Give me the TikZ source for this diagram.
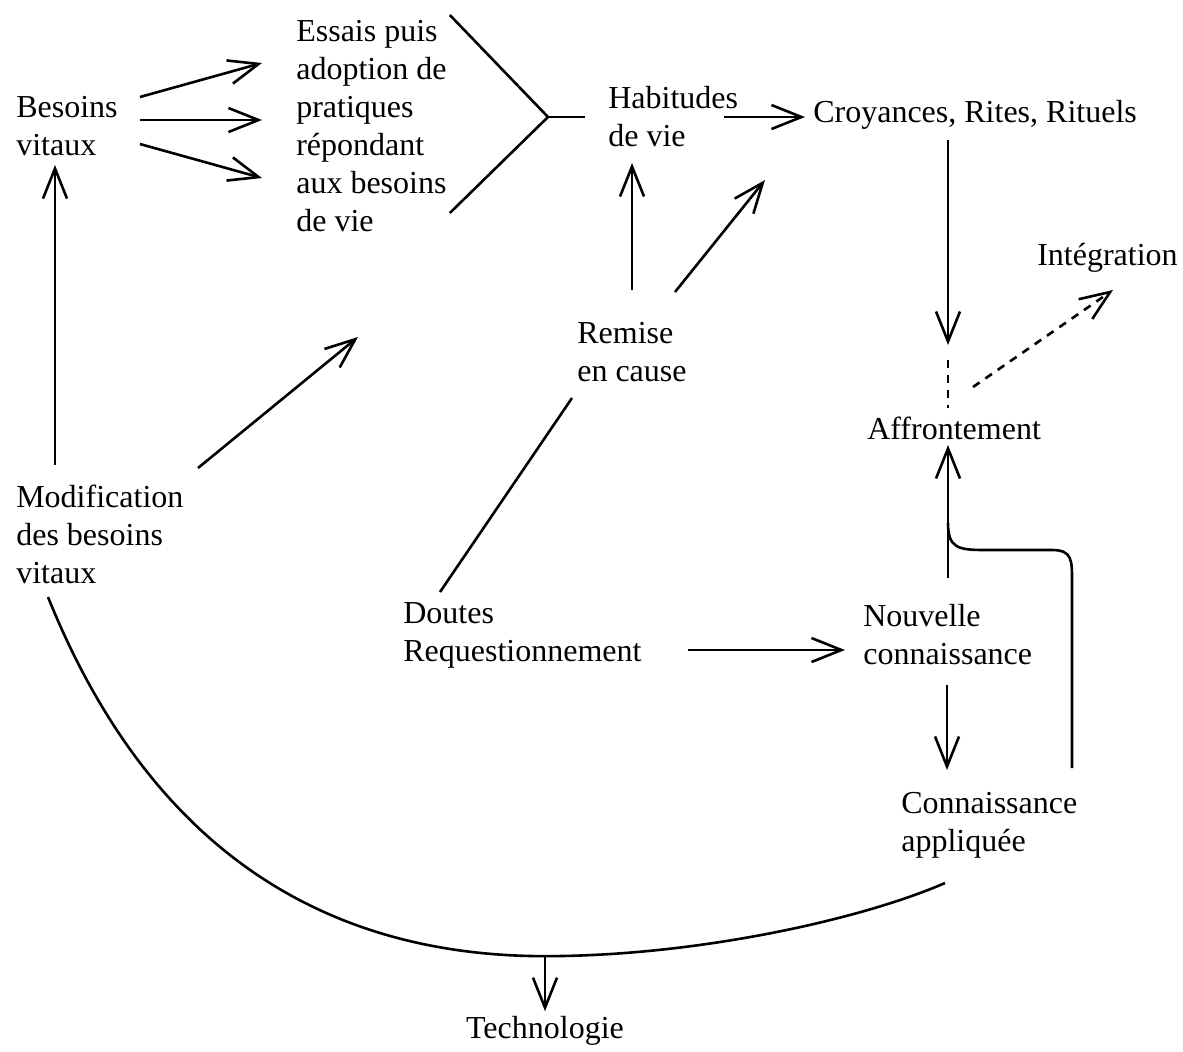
\documentclass[tikz,border=0pt]{standalone}
\usepackage{fontspec}
\setmainfont{Liberation Serif}
\usetikzlibrary{arrows.meta}
\begin{document}
\begin{tikzpicture}[x=0.5pt, y=-0.5pt, line width=1.3pt,
  txt/.style={anchor=west, align=left, inner sep=0pt, font=\fontsize{16}{19}\selectfont},
  arr/.style={-{Straight Barb[length=15pt, width=12pt]}},
  dsh/.style={dash pattern=on 4pt off 3.5pt}]
\useasboundingbox (0,0) rectangle (1183,1051);
\node (besoins) at (15,126) [txt] {Besoins\\vitaux};
\node (essais) at (295,126) [txt] {Essais puis\\adoption de\\pratiques\\répondant\\aux besoins\\de vie};
\node (habitudes) at (607,117) [txt] {Habitudes\\de vie};
\node (croyances) at (812,115) [txt] {Croyances, Rites, Rituels};
\node (integration) at (1036,258) [txt] {Intégration};
\node (remise) at (576,352) [txt] {Remise\\en cause};
\node (affront) at (866,428) [txt] {Affrontement};
\node (modif) at (15,534) [txt] {Modification\\des besoins\\vitaux};
\node (doutes) at (402,635) [txt] {Doutes\\Requestionnement};
\node (nouvelle) at (862,635) [txt] {Nouvelle\\connaissance};
\node (appliquee) at (900,825) [txt] {Connaissance\\appliquée};
\node (techno) at (545,1031) [txt, anchor=center] {Technologie};

% besoins vers pratiques
\draw[arr] ([shift={(21,-29)}]besoins.east) -- ([shift={(-33,-63)}]essais.west);
\draw[arr] ([shift={(21,-6)}]besoins.east) -- ([shift={(-33,-6)}]essais.west);
\draw[arr] ([shift={(21,18)}]besoins.east) -- ([shift={(-33,52)}]essais.west);

% fourche vers habitudes
\coordinate (fork) at ([shift={(-59,0)}]habitudes.west);
\draw ([shift={(2,-111)}]essais.east) -- (fork) -- ([shift={(2,87)}]essais.east);
\draw (fork) -- ++(37,0);
\draw[arr] ([shift={(-15,0)}]habitudes.east) -- ([shift={(-7,2)}]croyances.west);

% remise en cause
\draw[arr] ([shift={(56,-62)}]remise.west) -- ([shift={(25,46)}]habitudes.west);
\draw[arr] ([shift={(99,-60)}]remise.west) -- ([shift={(-47,65)}]croyances.west);
\draw ([shift={(38,-43)}]doutes.west) -- ([shift={(-4,46)}]remise.west);

% affrontement
\draw[arr] ([shift={(136,25)}]croyances.west) -- ([shift={(82,-83)}]affront.west);
\draw[dsh] ([shift={(82,-68)}]affront.west) -- ([shift={(82,-20)}]affront.west);
\draw[arr, dsh] ([shift={(107,-41)}]affront.west) -- ([shift={(77,32)}]integration.west);
\draw[arr] ([shift={(86,-57)}]nouvelle.west) -- ([shift={(82,17)}]affront.west);
\draw ([shift={(82,95)}]affront.west) .. controls +(0,25) and +(-27,0) .. ++(37,27)
  -- ++(67,0) .. controls +(20,0) and +(0,-20) .. ++(20,30)
  -- ([shift={(172,-57)}]appliquee.west);

% connaissance
\draw[arr] ([shift={(45,15)}]doutes.east) -- ([shift={(-17,15)}]nouvelle.west);
\draw[arr] ([shift={(85,50)}]nouvelle.west) -- ([shift={(47,-55)}]appliquee.west);

% modification
\draw[arr] ([shift={(40,-69)}]modif.west) -- ([shift={(40,39)}]besoins.west);
\draw[arr] ([shift={(183,-66)}]modif.west) -- ([shift={(63,211)}]essais.west);

% grand arc
\coordinate (low) at ([shift={(0,-59)}]techno.north);
\draw ([shift={(33,63)}]modif.west) .. controls +(102,253) and +(-220,0) .. (low)
  .. controls +(150,0) and +(-85,37) .. ([shift={(45,58)}]appliquee.west);
\draw[arr] (low) -- ([shift={(0,-4)}]techno.north);
\end{tikzpicture}
\end{document}
